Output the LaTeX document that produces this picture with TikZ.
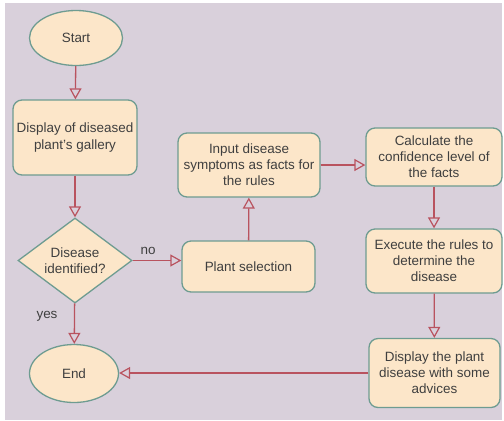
\documentclass[tikz,border=0pt]{standalone}
\usepackage{fontspec}
\setmainfont{Liberation Sans}
\usetikzlibrary{shapes.geometric,arrows.meta}
\definecolor{bgc}{HTML}{D9D0DB}
\definecolor{fillc}{HTML}{FCE6C9}
\definecolor{edgec}{HTML}{6E9C91}
\definecolor{arrc}{HTML}{B9535F}
\definecolor{txtc}{HTML}{3F3F3F}
\tikzset{
  base/.style={draw=edgec, fill=fillc, line width=1.3bp, inner sep=0pt, align=center,
    text=txtc, font=\fontsize{13.5}{16}\selectfont},
  term/.style={base, ellipse},
  proc/.style={base, rounded corners=9bp},
  dec/.style={base, diamond},
  conn/.style={draw=arrc, line width=1.3bp, -{Triangle[open, length=11bp, width=12bp, line width=1.2bp]}},
  lbl/.style={text=txtc, font=\fontsize{13.5}{15}\selectfont, inner sep=0pt}
}
\begin{document}
\begin{tikzpicture}[x=1bp, y=-1bp]
\useasboundingbox (0,0) rectangle (504,420);
\fill[white] (0,0) rectangle (504,420);
\fill[bgc] (5,3) rectangle (502,420);

\node[term, minimum width=93bp, minimum height=55bp] (start) at (76,38) {Start};
\node[proc, minimum width=124bp, minimum height=75bp, font=\fontsize{13.5}{18}\selectfont] (gal) at (75,137.5) {Display of diseased\\plant's gallery};
\node[dec, minimum width=114bp, minimum height=85bp,
  label={[lbl, align=center, font=\fontsize{13.5}{16}\selectfont]center:Disease\\identified?}] (dis) at (75,260.5) {};
\node[term, minimum width=89bp, minimum height=58bp] (end) at (74,373.5) {End};
\node[proc, minimum width=133bp, minimum height=51bp] (plant) at (248.5,266.5) {Plant selection};
\node[proc, minimum width=142bp, minimum height=64bp] (input) at (249,165) {Input disease\\symptoms as facts for\\the rules};
\node[proc, minimum width=136bp, minimum height=58bp] (calc) at (434,157) {Calculate the\\confidence level of\\the facts};
\node[proc, minimum width=136bp, minimum height=64bp] (exec) at (434,261) {Execute the rules to\\determine the\\disease};
\node[proc, minimum width=131bp, minimum height=69bp] (disp) at (434.5,373) {Display the plant\\disease with some\\advices};

\node[lbl] (no) at (148,251) {no};
\node[lbl] (yes) at (47,316) {yes};

\draw[conn] (start) -- (gal);
\draw[conn] (gal) -- (dis);
\draw[conn] (dis) -- (end);
\draw[conn] (dis.east) -- (dis.east -| plant.west);
\draw[conn] (plant) -- (input);
\draw[conn] (input.east) -- (input.east -| calc.west);
\draw[conn] (calc) -- (exec);
\draw[conn] (exec) -- (disp);
\draw[conn] (disp.west) -- (disp.west -| end.east);
\end{tikzpicture}
\end{document}
